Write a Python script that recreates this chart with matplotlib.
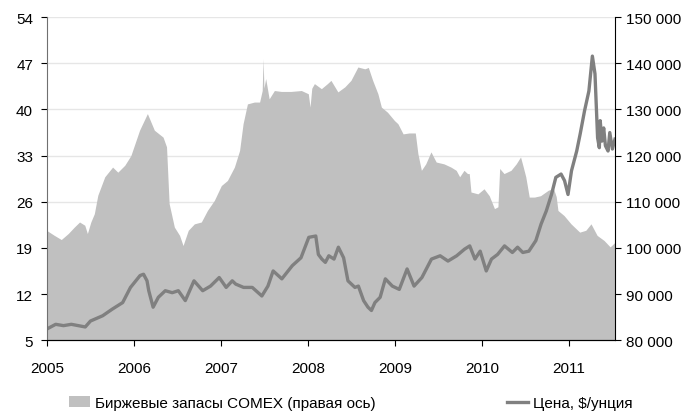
import numpy as np
import matplotlib.pyplot as plt
from matplotlib.patches import Patch
from matplotlib.lines import Line2D
from matplotlib.ticker import FuncFormatter

plt.rcParams['font.family'] = ['Liberation Sans', 'DejaVu Sans']

# COMEX stocks (right axis); x in decimal years
stock_t = [2005.00, 2005.09, 2005.17, 2005.25, 2005.32, 2005.38, 2005.44, 2005.47,
           2005.51, 2005.55, 2005.59, 2005.67, 2005.76, 2005.82, 2005.90, 2005.97,
           2006.07, 2006.16, 2006.24, 2006.34, 2006.38, 2006.41, 2006.47, 2006.53,
           2006.57, 2006.63, 2006.70, 2006.78, 2006.85, 2006.93, 2007.01, 2007.08,
           2007.16, 2007.22, 2007.26, 2007.31, 2007.39, 2007.45, 2007.48, 2007.49,
           2007.50, 2007.52, 2007.56, 2007.62, 2007.70, 2007.81, 2007.93, 2008.01,
           2008.03, 2008.05, 2008.08, 2008.16, 2008.23, 2008.27, 2008.35, 2008.43,
           2008.50, 2008.58, 2008.66, 2008.70, 2008.75, 2008.81, 2008.85, 2008.92,
           2009.00, 2009.04, 2009.10, 2009.17, 2009.24, 2009.27, 2009.31, 2009.36,
           2009.42, 2009.48, 2009.57, 2009.65, 2009.71, 2009.75, 2009.80, 2009.84,
           2009.86, 2009.88, 2009.96, 2010.03, 2010.09, 2010.15, 2010.19, 2010.21,
           2010.26, 2010.34, 2010.40, 2010.45, 2010.48, 2010.51, 2010.55, 2010.61,
           2010.68, 2010.77, 2010.83, 2010.86, 2010.88, 2010.95, 2011.03, 2011.13,
           2011.20, 2011.26, 2011.33, 2011.41, 2011.48, 2011.53]
stock_v = [103700, 102600, 101700, 103000, 104400, 105500, 104800, 103000,
           105500, 107300, 111300, 115300, 117400, 116300, 117800, 119900,
           125400, 129000, 125400, 123900, 121800, 109500, 104400, 102600,
           100400, 103700, 105100, 105500, 108000, 110200, 113400, 114500,
           117400, 121000, 126800, 131100, 131500, 131500, 134000, 140900,
           134500, 136600, 132200, 134000, 133800, 133800, 134000, 133300,
           130400, 134500, 135500, 134400, 135500, 136200, 133700, 134800,
           136200, 139100, 138700, 139000, 136200, 133300, 130400, 129300,
           127500, 126800, 124600, 124800, 124800, 120300, 116700, 118100,
           120700, 118500, 118100, 117400, 116700, 115300, 116700, 116000,
           116000, 112000, 111600, 112700, 111200, 108400, 108800, 117100,
           116000, 116700, 118100, 119600, 117500, 115300, 110900, 110900,
           111200, 112400, 112700, 111000, 108000, 106900, 105100, 103300,
           103700, 105100, 102600, 101500, 100100, 101000]

# silver price, $/oz (left axis)
price_t = [2005.00, 2005.10, 2005.19, 2005.28, 2005.36, 2005.44, 2005.50, 2005.64,
           2005.75, 2005.87, 2005.96, 2006.07, 2006.11, 2006.15, 2006.17, 2006.22,
           2006.28, 2006.32, 2006.36, 2006.44, 2006.51, 2006.59, 2006.64, 2006.69,
           2006.79, 2006.88, 2006.98, 2007.06, 2007.13, 2007.17, 2007.26, 2007.36,
           2007.47, 2007.54, 2007.60, 2007.70, 2007.82, 2007.92, 2008.01, 2008.09,
           2008.12, 2008.16, 2008.20, 2008.24, 2008.30, 2008.35, 2008.41, 2008.46,
           2008.54, 2008.58, 2008.64, 2008.69, 2008.73, 2008.77, 2008.83, 2008.89,
           2008.97, 2009.05, 2009.14, 2009.22, 2009.31, 2009.42, 2009.52, 2009.61,
           2009.71, 2009.80, 2009.86, 2009.92, 2009.98, 2010.05, 2010.11, 2010.18,
           2010.26, 2010.35, 2010.41, 2010.47, 2010.54, 2010.62, 2010.68, 2010.74,
           2010.80, 2010.85, 2010.91, 2010.95, 2010.99, 2011.03, 2011.09, 2011.13,
           2011.18, 2011.23, 2011.27, 2011.30, 2011.33, 2011.35, 2011.36, 2011.38,
           2011.40, 2011.42, 2011.45, 2011.47, 2011.50, 2011.53]
price_v = [6.7, 7.4, 7.2, 7.4, 7.2, 7.0, 7.9, 8.7,
           9.7, 10.7, 13.0, 14.8, 15.0, 14.0, 12.5, 10.0,
           11.5, 12.0, 12.5, 12.2, 12.5, 11.0, 12.5, 14.0,
           12.5, 13.2, 14.5, 13.0, 14.0, 13.5, 13.0, 13.0,
           11.7, 13.2, 15.5, 14.3, 16.3, 17.5, 20.6, 20.8,
           18.0, 17.3, 16.8, 17.8, 17.3, 19.1, 17.5, 14.0,
           13.0, 13.2, 11.0, 10.0, 9.5, 10.7, 11.5, 14.3,
           13.2, 12.7, 15.8, 13.2, 14.5, 17.3, 17.8, 17.0,
           17.8, 18.8, 19.3, 17.3, 18.5, 15.5, 17.3, 18.0,
           19.3, 18.3, 19.1, 18.3, 18.5, 20.1, 22.6, 24.6,
           27.1, 29.7, 30.2, 29.2, 27.1, 30.7, 33.7, 36.3,
           39.8, 42.8, 48.1, 45.4, 35.7, 34.2, 38.3, 35.2,
           37.2, 34.5, 33.7, 36.5, 34.0, 35.5]

years = [2005, 2006, 2007, 2008, 2009, 2010, 2011]
left_ticks = [5, 12, 19, 26, 33, 40, 47, 54]
right_ticks = [80000, 90000, 100000, 110000, 120000, 130000, 140000, 150000]

fig = plt.figure(figsize=(6.91, 4.14), dpi=100)
ax = fig.add_axes([0.068, 0.176, 0.822, 0.780])
ax2 = ax.twinx()
ax.set_zorder(ax2.get_zorder() + 1)
ax.patch.set_visible(False)

ax2.fill_between(stock_t, stock_v, 0, color='#c0c0c0', linewidth=0, zorder=2)
ax.plot(price_t, price_v, color='#808080', linewidth=2.4, solid_joinstyle='round')

ax.set_xlim(2005, 2011.53)
ax.set_ylim(5, 54)
ax2.set_ylim(80000, 150000)
ax.set_xticks(years)
ax.set_yticks(left_ticks)
ax2.set_yticks(right_ticks)
ax2.yaxis.set_major_formatter(FuncFormatter(lambda v, p: f"{int(v):,}".replace(",", " ")))

ax2.set_axisbelow(True)
ax2.grid(True, color='#e6e6e6', linewidth=1)
ax2.xaxis.grid(True)

for a in (ax, ax2):
    a.spines['top'].set_visible(False)
ax.spines['right'].set_visible(False)
ax.spines['left'].set_color('#707070')
ax2.spines['left'].set_visible(False)
ax2.spines['right'].set_color('black')
ax.spines['bottom'].set_color('black')
ax.tick_params(axis='both', labelsize=11, length=4, direction='out', pad=6)
ax2.tick_params(axis='y', labelsize=11, length=4, direction='out', pad=4)
ax.tick_params(axis='x', pad=11)

handles = [Patch(facecolor='#c0c0c0', edgecolor='none'),
           Line2D([], [], color='#808080', linewidth=2.4)]
fig.legend(handles, ['Биржевые запасы COMEX (правая ось)', 'Цена, $/унция'],
           loc='center', bbox_to_anchor=(0.507, 0.024), ncol=2, frameon=False,
           fontsize=11, columnspacing=8.6, handlelength=1.4, handletextpad=0.3)

fig.savefig('out.png', dpi=100)
